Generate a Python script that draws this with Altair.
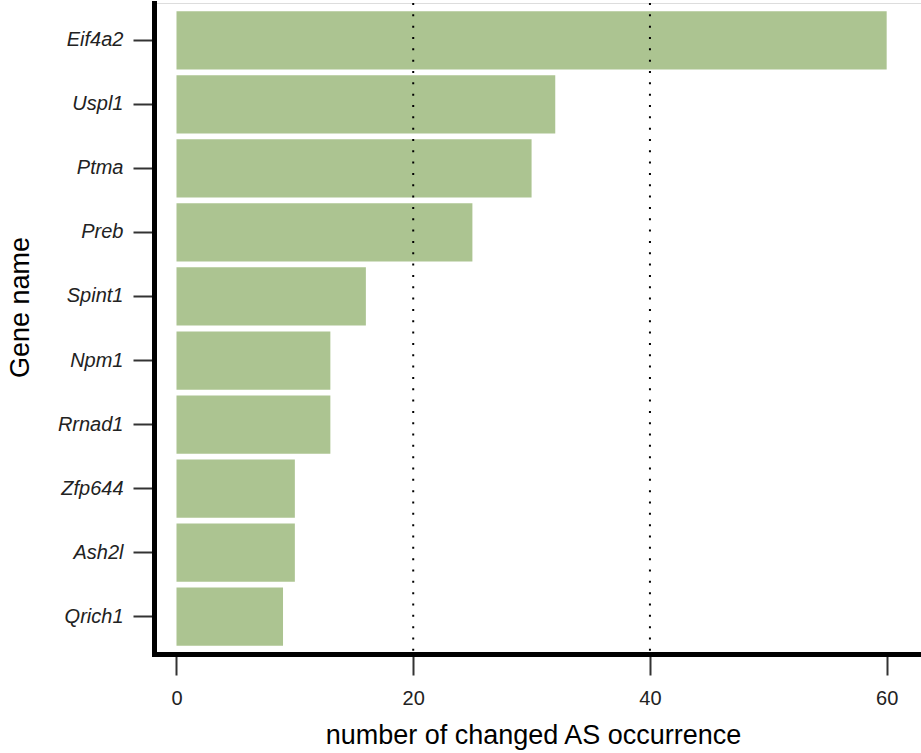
import altair as alt
import pandas as pd

genes = ["Eif4a2", "Uspl1", "Ptma", "Preb", "Spint1", "Npm1", "Rrnad1", "Zfp644", "Ash2l", "Qrich1"]
counts = [60, 32, 30, 25, 16, 13, 13, 10, 10, 9]
ref_lines = [20, 40]
x_ticks = [0, 20, 40, 60]

df = pd.DataFrame({"gene": genes, "count": counts})
ref = pd.DataFrame({"v": ref_lines})

FONT = "Liberation Sans"
xscale = alt.Scale(domain=[-1.9, 62.9], nice=False, zero=False)

bars = alt.Chart(df).mark_bar(color="#acc491").encode(
    x=alt.X("count:Q", scale=xscale,
            axis=alt.Axis(values=x_ticks, title="number of changed AS occurrence",
                          grid=False, domainColor="black", domainWidth=5, domainCap="square",
                          tickColor="#333333", tickWidth=2, tickSize=21,
                          labelFont=FONT, labelFontSize=20, labelColor="#222222", labelPadding=13,
                          titleFont=FONT, titleFontSize=27, titleFontWeight="normal", titleColor="black",
                          titleBaseline="alphabetic", titleX=379, titleY=89)),
    y=alt.Y("gene:N", sort=genes,
            scale=alt.Scale(paddingInner=0.09, paddingOuter=0.13),
            axis=alt.Axis(title="Gene name", grid=False,
                          domainColor="black", domainWidth=5, domainCap="square",
                          tickColor="#333333", tickWidth=2, tickSize=21,
                          labelFont=FONT, labelFontSize=20, labelFontStyle="italic",
                          labelColor="#222222", labelPadding=10,
                          titleFont=FONT, titleFontSize=27, titleFontWeight="normal", titleColor="black",
                          titleBaseline="alphabetic", titleX=-126, titleY=304, titleAngle=-90)),
)

rules = alt.Chart(ref).mark_rule(color="black", strokeWidth=2, strokeDash=[2, 9.33]).encode(
    x=alt.X("v:Q", scale=xscale)
)

chart = alt.layer(bars, rules).properties(
    width=767, height=651,
    autosize=alt.AutoSizeParams(type="none"),
    padding={"left": 154, "top": 3, "right": 0, "bottom": 99},
).configure_view(stroke=None).configure(background="white")

chart.save("out.html", embed_options={"renderer": "svg", "actions": False})
